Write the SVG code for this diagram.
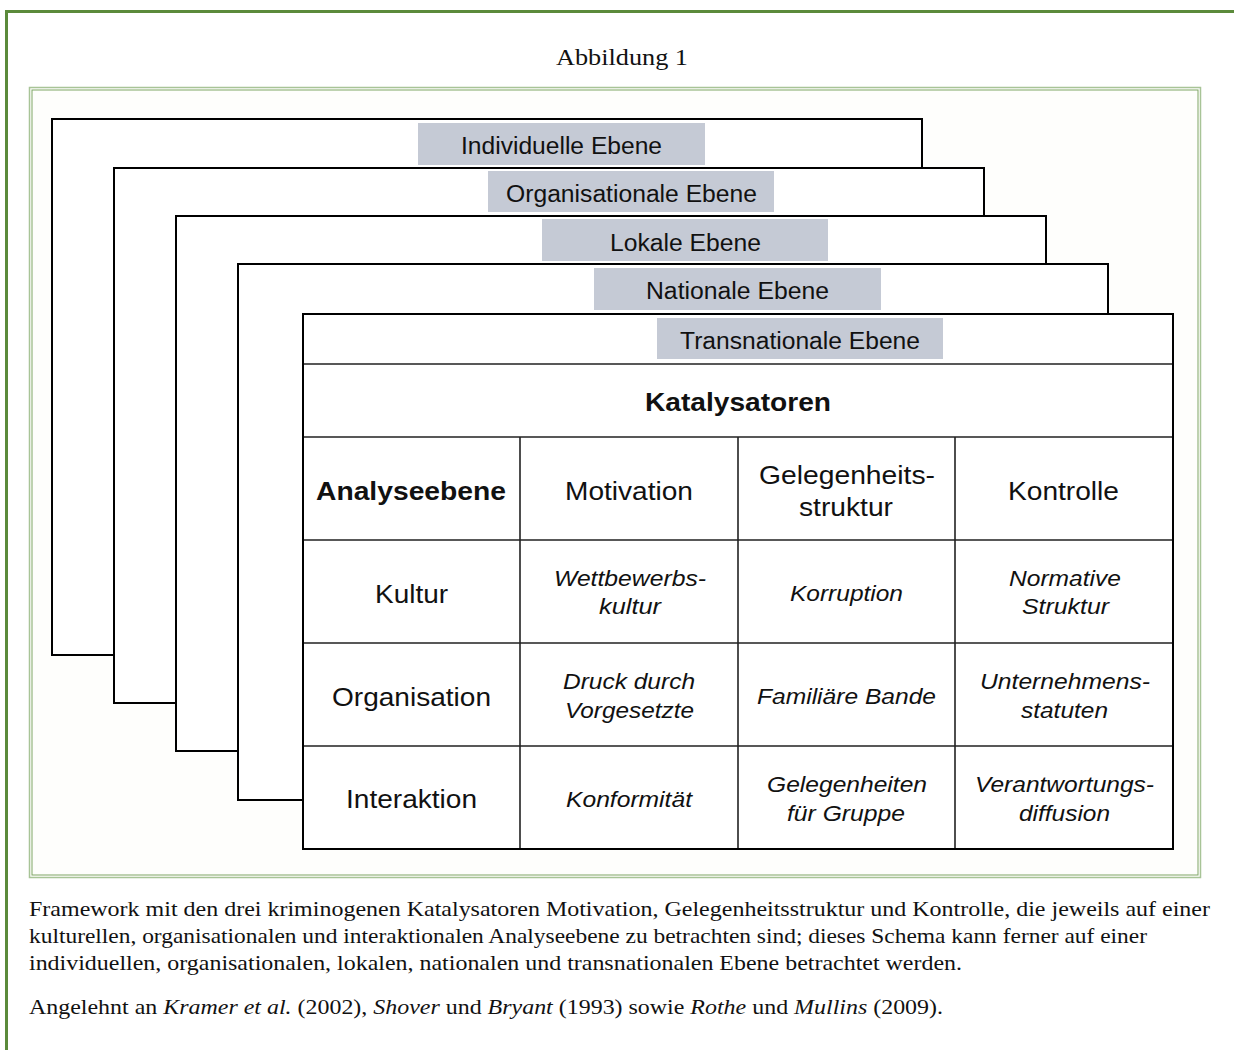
<svg xmlns="http://www.w3.org/2000/svg" width="1234" height="1050" viewBox="0 0 1234 1050">
<style>
.frame{fill:#fff;stroke:#000;stroke-width:2}
.lbl{fill:#c5cad5}
.lt{font-family:"Liberation Sans",Arial,sans-serif;font-size:23px;fill:#111;text-anchor:middle}
.h{font-family:"Liberation Sans",Arial,sans-serif;font-size:25px;fill:#111;text-anchor:middle}
.b{font-weight:bold}
.i{font-family:"Liberation Sans",Arial,sans-serif;font-size:22px;font-style:italic;fill:#111;text-anchor:middle}
.grid{stroke:#222;stroke-width:1.6;fill:none}
.cap{font-family:"Liberation Serif","Times New Roman",serif;font-size:22px;fill:#111}
</style>
<rect width="1234" height="1050" fill="#fff"/>
<g id="outer-border">
<path d="M6.5 1050 V11.5 H1234" fill="none" stroke="#5b8a3b" stroke-width="3"/>
</g>
<text x="622" y="65" class="cap" text-anchor="middle" style="font-size:23px" textLength="132" lengthAdjust="spacingAndGlyphs">Abbildung 1</text>
<g id="inner-frame">
<rect x="29.5" y="87.5" width="1171" height="790" fill="#fefefc" stroke="#a8c497" stroke-width="1.5"/>
<rect x="32" y="90" width="1166" height="785" fill="none" stroke="#7ea565" stroke-width="1"/>
</g>
<g id="level-individuell">
<rect class="frame" x="52" y="119" width="870" height="536"/>
<rect class="lbl" x="418" y="123" width="287" height="42"/>
<text class="lt" x="561.5" y="154" textLength="201" lengthAdjust="spacingAndGlyphs">Individuelle Ebene</text>
</g>
<g id="level-organisational">
<rect class="frame" x="114" y="168" width="870" height="535"/>
<rect class="lbl" x="488" y="171" width="286" height="41"/>
<text class="lt" x="631.5" y="202" textLength="251" lengthAdjust="spacingAndGlyphs">Organisationale Ebene</text>
</g>
<g id="level-lokal">
<rect class="frame" x="176" y="216" width="870" height="535"/>
<rect class="lbl" x="542" y="219" width="286" height="42"/>
<text class="lt" x="685.5" y="251" textLength="151" lengthAdjust="spacingAndGlyphs">Lokale Ebene</text>
</g>
<g id="level-national">
<rect class="frame" x="238" y="264" width="870" height="536"/>
<rect class="lbl" x="594" y="268" width="287" height="42"/>
<text class="lt" x="737.5" y="299" textLength="183" lengthAdjust="spacingAndGlyphs">Nationale Ebene</text>
</g>
<g id="level-transnational">
<rect class="frame" x="303" y="314" width="870" height="535"/>
<rect class="lbl" x="657" y="318" width="286" height="41"/>
<text class="lt" x="800" y="349" textLength="240" lengthAdjust="spacingAndGlyphs">Transnationale Ebene</text>
</g>
<g id="table-grid">
<path class="grid" d="M303 364 H1173 M303 437 H1173 M303 540 H1173 M303 643 H1173 M303 746 H1173 M520 437 V849 M738 437 V849 M955 437 V849"/>
<rect x="303" y="314" width="870" height="535" fill="none" stroke="#000" stroke-width="2"/>
</g>
<g id="table-header">
<text class="h b" x="738" y="411" textLength="186" lengthAdjust="spacingAndGlyphs">Katalysatoren</text>
<text class="h b" x="411" y="500" textLength="190" lengthAdjust="spacingAndGlyphs">Analyseebene</text>
<text class="h" x="629" y="500" textLength="128" lengthAdjust="spacingAndGlyphs">Motivation</text>
<text class="h" x="847" y="484" textLength="176" lengthAdjust="spacingAndGlyphs">Gelegenheits-</text>
<text class="h" x="846" y="516" textLength="94" lengthAdjust="spacingAndGlyphs">struktur</text>
<text class="h" x="1063.5" y="500" textLength="111" lengthAdjust="spacingAndGlyphs">Kontrolle</text>
</g>
<g id="row-kultur">
<text class="h" x="411.5" y="603" textLength="73" lengthAdjust="spacingAndGlyphs">Kultur</text>
<text class="i" x="630" y="586" textLength="152" lengthAdjust="spacingAndGlyphs">Wettbewerbs-</text>
<text class="i" x="630" y="614" textLength="62" lengthAdjust="spacingAndGlyphs">kultur</text>
<text class="i" x="846.5" y="601" textLength="113" lengthAdjust="spacingAndGlyphs">Korruption</text>
<text class="i" x="1065" y="586" textLength="112" lengthAdjust="spacingAndGlyphs">Normative</text>
<text class="i" x="1065.5" y="614" textLength="87" lengthAdjust="spacingAndGlyphs">Struktur</text>
</g>
<g id="row-organisation">
<text class="h" x="411.5" y="706" textLength="159" lengthAdjust="spacingAndGlyphs">Organisation</text>
<text class="i" x="629" y="689" textLength="132" lengthAdjust="spacingAndGlyphs">Druck durch</text>
<text class="i" x="629.5" y="718" textLength="129" lengthAdjust="spacingAndGlyphs">Vorgesetzte</text>
<text class="i" x="846.5" y="704" textLength="179" lengthAdjust="spacingAndGlyphs">Familiäre Bande</text>
<text class="i" x="1065" y="689" textLength="170" lengthAdjust="spacingAndGlyphs">Unternehmens-</text>
<text class="i" x="1064.5" y="718" textLength="87" lengthAdjust="spacingAndGlyphs">statuten</text>
</g>
<g id="row-interaktion">
<text class="h" x="411.5" y="808" textLength="131" lengthAdjust="spacingAndGlyphs">Interaktion</text>
<text class="i" x="629" y="807" textLength="126" lengthAdjust="spacingAndGlyphs">Konformität</text>
<text class="i" x="847" y="792" textLength="160" lengthAdjust="spacingAndGlyphs">Gelegenheiten</text>
<text class="i" x="846" y="821" textLength="118" lengthAdjust="spacingAndGlyphs">für Gruppe</text>
<text class="i" x="1064.5" y="792" textLength="179" lengthAdjust="spacingAndGlyphs">Verantwortungs-</text>
<text class="i" x="1064.5" y="821" textLength="91" lengthAdjust="spacingAndGlyphs">diffusion</text>
</g>
<g id="caption">
<text class="cap" x="29" y="916" textLength="1181" lengthAdjust="spacingAndGlyphs">Framework mit den drei kriminogenen Katalysatoren Motivation, Gelegenheitsstruktur und Kontrolle, die jeweils auf einer</text>
<text class="cap" x="29" y="943" textLength="1118" lengthAdjust="spacingAndGlyphs">kulturellen, organisationalen und interaktionalen Analyseebene zu betrachten sind; dieses Schema kann ferner auf einer</text>
<text class="cap" x="29" y="970" textLength="933" lengthAdjust="spacingAndGlyphs">individuellen, organisationalen, lokalen, nationalen und transnationalen Ebene betrachtet werden.</text>
<text class="cap" x="29" y="1014" textLength="914" lengthAdjust="spacingAndGlyphs">Angelehnt an <tspan font-style="italic">Kramer et al.</tspan> (2002), <tspan font-style="italic">Shover</tspan> und <tspan font-style="italic">Bryant</tspan> (1993) sowie <tspan font-style="italic">Rothe</tspan> und <tspan font-style="italic">Mullins</tspan> (2009).</text>
</g>
</svg>
